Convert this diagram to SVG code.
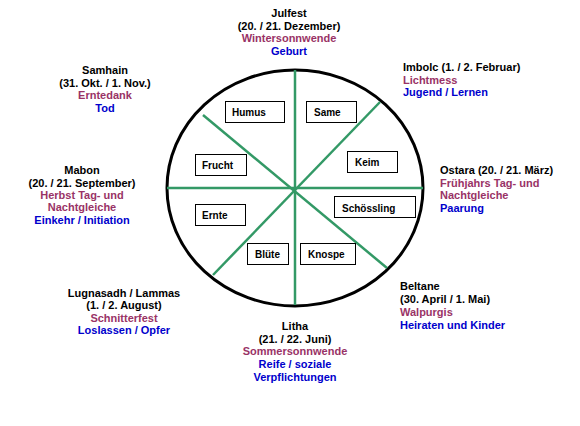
<svg xmlns="http://www.w3.org/2000/svg" width="580" height="426" viewBox="0 0 580 426">
<style>
text{font-family:"Liberation Sans",Arial,sans-serif;font-weight:bold;font-size:11px;fill:#000}
.p{fill:#993366}
.b{fill:#0000cc}
.m{text-anchor:middle}
.box rect{fill:#fff;stroke:#000;stroke-width:1}
.box text{font-size:10px}
.sp{stroke:#339966;stroke-width:2.5;fill:none}
</style>
<rect width="580" height="426" fill="#fff"/>
<g id="wheel">
<ellipse cx="295" cy="188" rx="128" ry="118" fill="#fff" stroke="#000" stroke-width="3"/>
</g>
<g id="connectors">
<line class="sp" x1="295" y1="70" x2="295" y2="305"/>
<line class="sp" x1="167" y1="188" x2="423" y2="188"/>
<line class="sp" x1="203" y1="115" x2="387" y2="268"/>
<line class="sp" x1="380" y1="102" x2="213" y2="275"/>
</g>
<g id="humus" class="box"><rect x="225.5" y="101.5" width="59" height="21"/><text x="232" y="115.5">Humus</text></g>
<g id="same" class="box"><rect x="306.5" y="101.5" width="50" height="21"/><text x="314" y="115.5">Same</text></g>
<g id="keim" class="box"><rect x="347.5" y="151.5" width="50" height="21"/><text x="355" y="165.5">Keim</text></g>
<g id="frucht" class="box"><rect x="195.5" y="154.5" width="51" height="21"/><text x="202" y="168.5">Frucht</text></g>
<g id="schoessling" class="box"><rect x="334.5" y="196.5" width="81" height="21"/><text x="342" y="211.5">Schössling</text></g>
<g id="ernte" class="box"><rect x="195.5" y="204.5" width="50" height="21"/><text x="202" y="218.5">Ernte</text></g>
<g id="bluete" class="box"><rect x="247.5" y="243.5" width="41" height="21"/><text x="255" y="257.5">Blüte</text></g>
<g id="knospe" class="box"><rect x="300.5" y="243.5" width="55" height="21"/><text x="308" y="257.5">Knospe</text></g>
<g id="julfest" class="m">
<text x="289" y="17" class="m">Julfest</text>
<text x="289" y="30" class="m">(20. / 21. Dezember)</text>
<text x="289" y="42" class="m p">Wintersonnwende</text>
<text x="289" y="55" class="m b">Geburt</text>
</g>
<g id="samhain">
<text x="105" y="74" class="m">Samhain</text>
<text x="105" y="87" class="m">(31. Okt. / 1. Nov.)</text>
<text x="105" y="99" class="m p">Erntedank</text>
<text x="105" y="112" class="m b">Tod</text>
</g>
<g id="imbolc">
<text x="403" y="71">Imbolc (1. / 2. Februar)</text>
<text x="403" y="84" class="p">Lichtmess</text>
<text x="403" y="96" class="b">Jugend / Lernen</text>
</g>
<g id="mabon">
<text x="82" y="174" class="m">Mabon</text>
<text x="82" y="187" class="m">(20. / 21. September)</text>
<text x="82" y="199" class="m p">Herbst Tag- und</text>
<text x="82" y="211" class="m p">Nachtgleiche</text>
<text x="82" y="224" class="m b">Einkehr / Initiation</text>
</g>
<g id="ostara">
<text x="440" y="174">Ostara (20. / 21. März)</text>
<text x="440" y="187" class="p">Frühjahrs Tag- und</text>
<text x="440" y="199" class="p">Nachtgleiche</text>
<text x="440" y="212" class="b">Paarung</text>
</g>
<g id="lugnasadh">
<text x="124" y="297" class="m">Lugnasadh / Lammas</text>
<text x="124" y="309" class="m">(1. / 2. August)</text>
<text x="124" y="322" class="m p">Schnitterfest</text>
<text x="124" y="334" class="m b">Loslassen / Opfer</text>
</g>
<g id="beltane">
<text x="400" y="290">Beltane</text>
<text x="400" y="303">(30. April / 1. Mai)</text>
<text x="400" y="316" class="p">Walpurgis</text>
<text x="400" y="329" class="b">Heiraten und Kinder</text>
</g>
<g id="litha">
<text x="295" y="330" class="m">Litha</text>
<text x="295" y="343" class="m">(21. / 22. Juni)</text>
<text x="295" y="355" class="m p">Sommersonnwende</text>
<text x="295" y="368" class="m b">Reife / soziale</text>
<text x="295" y="381" class="m b">Verpflichtungen</text>
</g>
</svg>
